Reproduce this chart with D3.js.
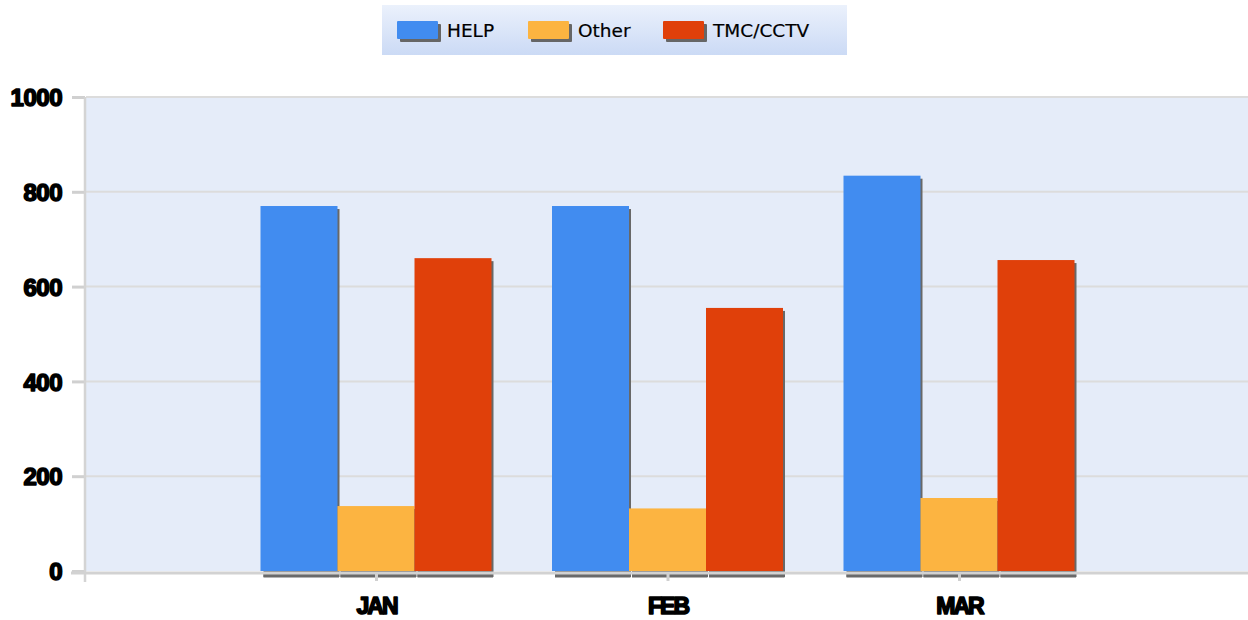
<!DOCTYPE html>
<html>
<head>
<meta charset="utf-8">
<script src="https://cdn.jsdelivr.net/npm/d3@7/dist/d3.min.js"></script>
<style>
  html, body { margin: 0; padding: 0; background: #ffffff; }
  svg { display: block; }
</style>
</head>
<body>
<svg id="chart" width="1248" height="620"></svg>
<script>
const categories = ["JAN", "FEB", "MAR"];
const seriesNames = ["HELP", "Other", "TMC/CCTV"];
const helpValues = [770, 770, 834];
const otherValues = [137, 132, 154];
const tmcValues = [660, 555, 656];
const yTicks = [0, 200, 400, 600, 800, 1000];
const colors = ["#418cf0", "#fcb441", "#e0400a"];

const seriesValues = [helpValues, otherValues, tmcValues];
const data = categories.map((c, i) => ({
  cat: c,
  vals: seriesNames.map((s, j) => ({ series: s, value: seriesValues[j][i], color: colors[j] }))
}));

const svg = d3.select("#chart");
const plotLeft = 85, plotRight = 1248, plotTop = 97, plotBottom = 571;
const step = 291.5;

const y = d3.scaleLinear().domain([0, 1000]).range([plotBottom, plotTop]);
const x0 = d3.scalePoint().domain(categories).range([plotLeft + step - 0.5, plotLeft + 3 * step - 0.5]);
const groupW = 231;
const x1 = d3.scaleBand().domain(seriesNames).range([-groupW / 2, groupW / 2]).padding(0);

// Legend
const defs = svg.append("defs");
const lg = defs.append("linearGradient").attr("id", "legGrad").attr("x1", 0).attr("y1", 0).attr("x2", 0).attr("y2", 1);
lg.append("stop").attr("offset", "0%").attr("stop-color", "#ebf1fc");
lg.append("stop").attr("offset", "100%").attr("stop-color", "#cbdaf5");

svg.append("rect").attr("x", 382).attr("y", 5).attr("width", 465).attr("height", 50).attr("fill", "url(#legGrad)");
const legX = [397, 528, 663];
seriesNames.forEach((s, i) => {
  const g = svg.append("g").attr("transform", `translate(${legX[i]},21)`);
  g.append("rect").attr("x", 3).attr("y", 3).attr("width", 41).attr("height", 18).attr("fill", "#666").attr("rx", 1);
  g.append("rect").attr("x", 0).attr("y", 0).attr("width", 41).attr("height", 18).attr("fill", colors[i]).attr("rx", 1);
  g.append("text").attr("x", 50).attr("y", 16)
    .attr("font-family", "DejaVu Sans, Verdana, sans-serif").attr("font-size", 18.5)
    .attr("fill", "#000").attr("stroke", "#000").attr("stroke-width", 0.2).text(s);
});

// Plot background
svg.append("rect").attr("x", plotLeft + 1).attr("y", plotTop)
  .attr("width", plotRight - plotLeft).attr("height", plotBottom - plotTop).attr("fill", "#e5ecf9");

// Gridlines
svg.append("g").selectAll("line").data(yTicks.filter(d => d > 0)).join("line")
  .attr("x1", plotLeft + 1).attr("x2", plotRight)
  .attr("y1", d => y(d)).attr("y2", d => y(d))
  .attr("stroke", "#dcdcdc").attr("stroke-width", 2);

// Y axis with d3
const yAxis = d3.axisLeft(y).tickValues(yTicks).tickSize(13).tickPadding(10).tickFormat(d3.format("d"));
const ya = svg.append("g").attr("transform", `translate(${plotLeft},0)`).call(yAxis);
ya.select(".domain").remove();
ya.selectAll(".tick line").attr("stroke", "#d0d0d0").attr("stroke-width", 3);
ya.selectAll(".tick text")
  .attr("font-family", "Liberation Sans, Arial, sans-serif").attr("font-weight", "bold")
  .attr("font-size", 24).attr("fill", "#000").attr("stroke", "#000").attr("stroke-width", 1.6)
  .attr("stroke-linejoin", "round")
  .attr("letter-spacing", "-0.5px").attr("dy", "0.36em");
svg.append("line").attr("x1", plotLeft).attr("x2", plotLeft).attr("y1", plotTop).attr("y2", plotBottom + 11)
  .attr("stroke", "#d4d4d4").attr("stroke-width", 2.5);

// Bars
const groups = svg.append("g").selectAll("g").data(data).join("g")
  .attr("transform", d => `translate(${x0(d.cat)},0)`);
// shadows
groups.selectAll("rect.sh").data(d => d.vals).join("rect").attr("class", "sh")
  .attr("x", d => x1(d.series) + 3).attr("y", d => y(d.value) + 3)
  .attr("width", x1.bandwidth() - 1).attr("height", d => plotBottom - y(d.value) + 3)
  .attr("fill", "#686868");
// x axis line
svg.append("rect").attr("x", plotLeft - 14).attr("y", plotBottom + 0.5).attr("width", plotRight - plotLeft + 14).attr("height", 3)
  .attr("fill", "#d2d2d2");
// bottom shadow strips beneath axis line
groups.selectAll("rect.sh2").data(d => d.vals).join("rect").attr("class", "sh2")
  .attr("x", d => x1(d.series) + 3).attr("y", plotBottom + 2.5)
  .attr("width", x1.bandwidth() - 1.5).attr("height", 4)
  .attr("fill", "#6a6a6a");
groups.selectAll("rect.bar").data(d => d.vals).join("rect").attr("class", "bar")
  .attr("x", d => x1(d.series)).attr("y", d => y(d.value))
  .attr("width", x1.bandwidth()).attr("height", d => plotBottom - y(d.value))
  .attr("fill", d => d.color);

// X axis ticks & labels with d3
const xAxis = d3.axisBottom(x0).tickSize(8).tickPadding(17);
const xa = svg.append("g").attr("transform", `translate(0,${plotBottom + 2})`).call(xAxis);
xa.select(".domain").remove();
xa.selectAll(".tick line").attr("stroke", "#d0d0d0").attr("stroke-width", 3);
xa.selectAll(".tick text")
  .attr("font-family", "Liberation Sans, Arial, sans-serif").attr("font-weight", "bold")
  .attr("font-size", 23).attr("fill", "#000").attr("stroke", "#000").attr("stroke-width", 1.6)
  .attr("stroke-linejoin", "round")
  .attr("letter-spacing", "-2px").attr("dy", "0.71em");
</script>
</body>
</html>
